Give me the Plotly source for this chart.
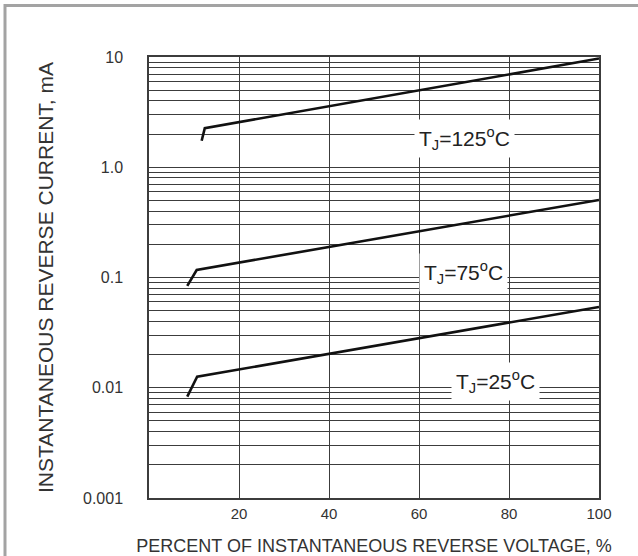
import numpy as np
import plotly.graph_objects as go

# ---- data ----
x_125 = [11.7, 12.4, 100]
y_125 = [1.74, 2.26, 9.7]
x_75 = [8.5, 10.6, 100]
y_75 = [0.084, 0.117, 0.505]
x_25 = [8.5, 10.7, 100]
y_25 = [0.0083, 0.0126, 0.054]

x_ticks = [20, 40, 60, 80, 100]
y_decades = [0.001, 0.01, 0.1, 1, 10]
y_decade_labels = ["0.001", "0.01", "0.1", "1.0", "10"]

labels = ["T<sub>J</sub>=125<sup>o</sup>C", "T<sub>J</sub>=75<sup>o</sup>C", "T<sub>J</sub>=25<sup>o</sup>C"]
label_x = [70.2, 69.8, 77.1]
label_y = [1.84, 0.110, 0.0115]

# minor grid positions (2..9 multiples of each decade)
y_minor = [d * m for d in y_decades[:-1] for m in range(2, 10)]

FONT = "Liberation Sans, Arial, sans-serif"
GRID = "#3c3c3c"

fig = go.Figure()
for xs, ys in [(x_125, y_125), (x_75, y_75), (x_25, y_25)]:
    fig.add_trace(go.Scatter(x=xs, y=ys, mode="lines",
                             line=dict(color="#111111", width=2.6),
                             showlegend=False, hoverinfo="skip"))

for t, xv, yv in zip(labels, label_x, label_y):
    fig.add_annotation(x=xv, y=np.log10(yv), xref="x", yref="y", text=t,
                       showarrow=False, bgcolor="white",
                       font=dict(family=FONT, size=21, color="#222222"),
                       borderpad=4)

W, H = 638, 556
ml, mr, mt, mb = 149, 39, 57, 58
pw, ph = W - ml - mr, H - mt - mb
def px2paper_x(px):
    return (px - ml) / pw
def py2paper_y(py):
    return (H - mb - py) / ph

fig.add_shape(type="rect", xref="paper", yref="paper",
              x0=px2paper_x(5), x1=px2paper_x(660),
              y0=py2paper_y(580), y1=py2paper_y(5.5),
              line=dict(color="#a3a3a3", width=3), fillcolor="rgba(0,0,0,0)",
              layer="above")

fig.update_layout(
    width=W, height=H,
    margin=dict(l=ml, r=mr, t=mt, b=mb, autoexpand=False),
    paper_bgcolor="white", plot_bgcolor="white",
    font=dict(family=FONT, color="#333333"),
    xaxis=dict(range=[0, 100], tickvals=x_ticks, ticktext=[str(v) for v in x_ticks],
               automargin=False,
               showgrid=True, gridcolor=GRID, gridwidth=1.3,
               showline=True, mirror=True, linecolor=GRID, linewidth=1.5,
               zeroline=False, ticks="", ticklabelstandoff=1,
               tickfont=dict(size=15, color="#333333"),
               title=dict(text="PERCENT OF INSTANTANEOUS REVERSE VOLTAGE, %",
                          font=dict(size=18, color="#333333"), standoff=25)),
    yaxis=dict(type="log", range=[-3, 1], tickvals=y_decades, ticktext=y_decade_labels,
               automargin=False,
               showgrid=True, gridcolor=GRID, gridwidth=1,
               minor=dict(tickvals=y_minor, showgrid=True, gridcolor=GRID,
                          gridwidth=1, ticks=""),
               showline=True, mirror=True, linecolor=GRID, linewidth=1.5,
               zeroline=False, ticks="", ticklabelstandoff=21,
               tickfont=dict(size=16, color="#333333"),
               title=dict(text="INSTANTANEOUS REVERSE CURRENT, mA",
                          font=dict(size=21, color="#333333"), standoff=24)),
)

fig.write_html("out.html", config={"displayModeBar": False},
               post_script="document.body.style.margin='0';")
